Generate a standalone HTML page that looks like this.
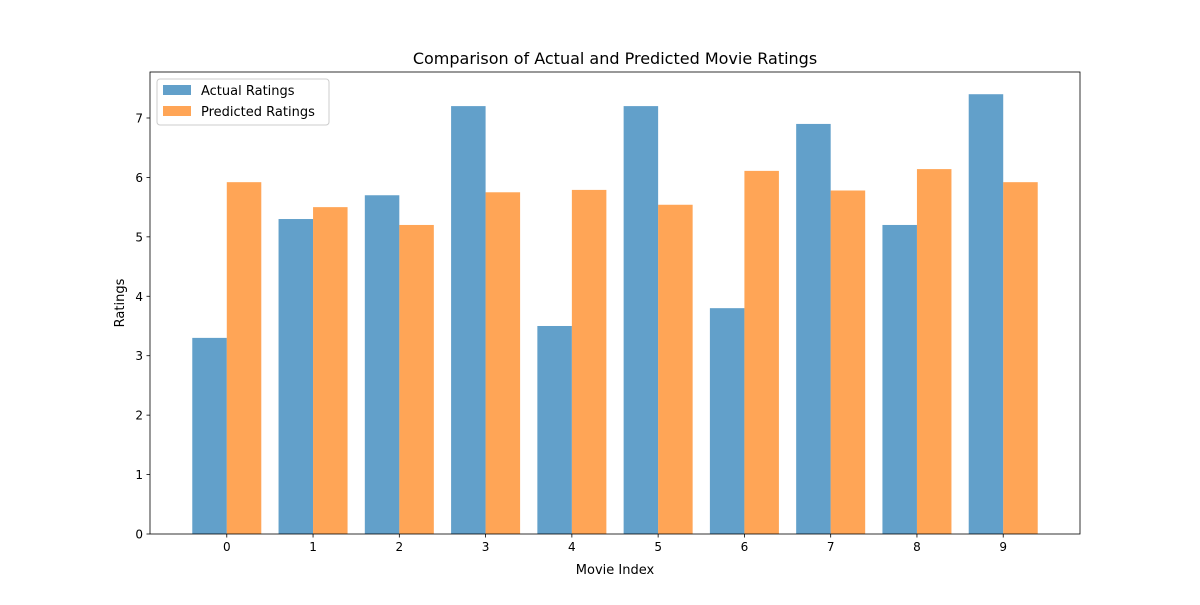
<!DOCTYPE html>
<html><head><meta charset="utf-8"><style>
body{margin:0;background:#fff;font-family:"Liberation Sans","DejaVu Sans",sans-serif}
svg text{font-family:"DejaVu Sans","Liberation Sans",sans-serif}
</style></head><body>
<svg id="chart" width="1200" height="600" xmlns="http://www.w3.org/2000/svg"></svg>
<script>
const categories=["0","1","2","3","4","5","6","7","8","9"];
const actualRatings=[3.3,5.3,5.7,7.2,3.5,7.2,3.8,6.9,5.2,7.4];
const predictedRatings=[5.92,5.5,5.2,5.75,5.79,5.54,6.11,5.78,6.14,5.92];
const yTicks=[0,1,2,3,4,5,6,7];

const svg=document.getElementById('chart');
const NS="http://www.w3.org/2000/svg";
const L=150,R=1080,T=72,B=534;
const xMin=-0.89,xMax=9.89,yMax=(B-T)/59.43;
function xs(v){return L+(v-xMin)/(xMax-xMin)*(R-L);}
function ys(v){return B-v/yMax*(B-T);}
function mk(tag,attrs,parent){const e=document.createElementNS(NS,tag);for(const k in attrs)e.setAttribute(k,attrs[k]);(parent||svg).appendChild(e);return e;}
const bw=0.4;
const gBars=mk('g',{});


categories.forEach((c,i)=>{
  const a=mk('rect',{x:xs(i-bw),y:ys(actualRatings[i]),width:xs(i)-xs(i-bw),height:ys(0)-ys(actualRatings[i]),fill:'#1f77b4','fill-opacity':0.7},gBars);
  
  
  const p=mk('rect',{x:xs(i),y:ys(predictedRatings[i]),width:xs(i+bw)-xs(i),height:ys(0)-ys(predictedRatings[i]),fill:'#ff7f0e','fill-opacity':0.7},gBars);
  
  
});
const frame=mk('rect',{x:L,y:T,width:R-L,height:B-T,fill:'none',stroke:'#000','stroke-width':0.8});


categories.forEach((c,i)=>{
  const x=xs(i);
  mk('line',{x1:x,x2:x,y1:B,y2:B+3.5,stroke:'#000','stroke-width':0.8});
  const t=mk('text',{x:x,y:B+17,'text-anchor':'middle','font-size':12});
  t.textContent=c;
  
  
});
yTicks.forEach(v=>{
  const y=ys(v);
  mk('line',{x1:L-3.5,x2:L,y1:y,y2:y,stroke:'#000','stroke-width':0.8});
  const t=mk('text',{x:L-7,y:y+4.5,'text-anchor':'end','font-size':12});
  t.textContent=v;
  
  
});
const title=mk('text',{x:(L+R)/2,y:64,'text-anchor':'middle','font-size':16});
title.textContent='Comparison of Actual and Predicted Movie Ratings';


const xt=mk('text',{x:(L+R)/2,y:574,'text-anchor':'middle','font-size':13});
xt.textContent='Movie Index';


const yt=mk('text',{x:124,y:(T+B)/2,'text-anchor':'middle','font-size':13,transform:'rotate(-90 124 '+((T+B)/2)+')'});
yt.textContent='Ratings';


const lg=mk('g',{});


mk('rect',{x:157,y:79,width:172,height:46,rx:3,fill:'#fff','fill-opacity':0.8,stroke:'#ccc'},lg);
const items=[['Actual Ratings','#1f77b4'],['Predicted Ratings','#ff7f0e']];
items.forEach((it,k)=>{
  const y=85+k*21;
  mk('rect',{x:163,y:y,width:28,height:10,fill:it[1],'fill-opacity':0.7},lg);
  const t=mk('text',{x:201,y:y+10,'font-size':13},lg);
  t.textContent=it[0];
  
  
});
</script>
</body></html>
